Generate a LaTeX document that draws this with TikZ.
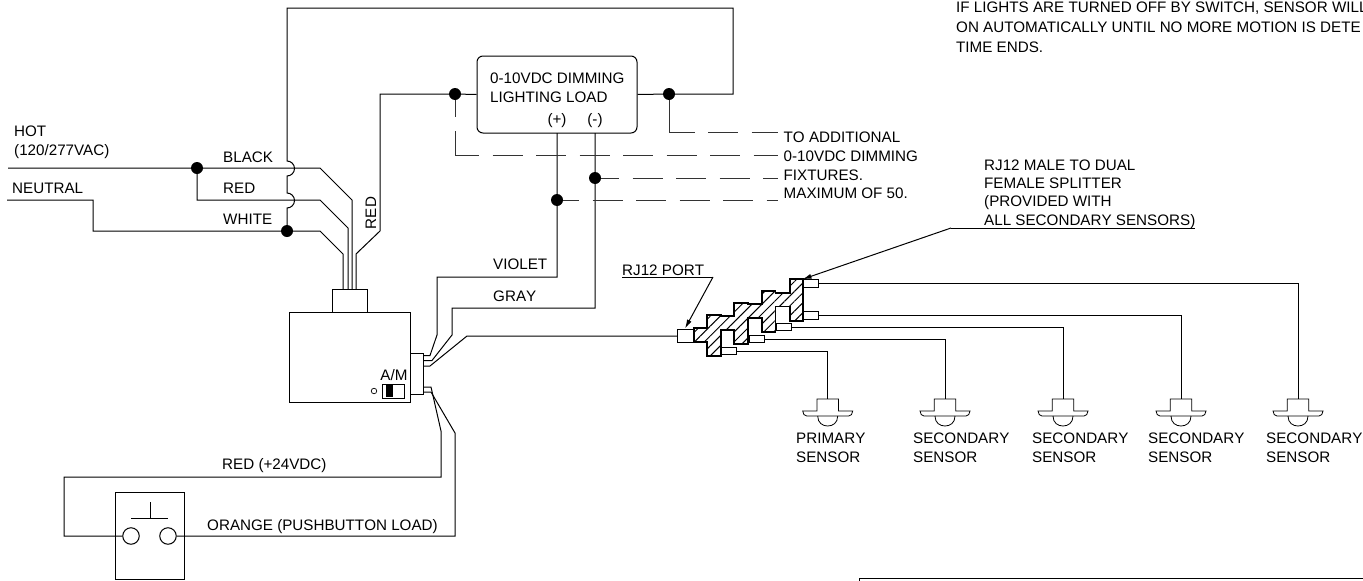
\documentclass[tikz,border=0pt]{standalone}
\usepackage{fontspec}
\setmainfont[Kerning=Off]{Liberation Sans}
\usetikzlibrary{patterns,patterns.meta,arrows.meta}
\tikzset{
 wire/.style={draw=black,line width=1pt},
 dashwire/.style={draw=black!80,line width=1pt,dash pattern=on 30pt off 13.5pt},
 dot/.style={circle,fill=black,inner sep=0pt,minimum size=12pt},
 lbl/.style={anchor=west,inner sep=0pt,font=\fontsize{15.2}{19}\selectfont,align=left},
 oneline/.style={anchor=west,inner sep=0pt,font=\fontsize{15.2}{19}\selectfont},
 hatched/.style={draw=black,line width=1.1pt,pattern={Lines[angle=45,distance=7pt,line width=1pt]}},
 outbox/.style={draw=black,line width=1pt,fill=white},
 boxed/.style={draw,line width=1pt,inner sep=0pt},
 ring/.style={draw,line width=1pt,circle,inner sep=0pt},
 leader/.style={draw=black,line width=1pt,-{Latex[length=9pt,width=5pt]}}
}
\begin{document}
\begin{tikzpicture}[x=1pt,y=-1pt]
\useasboundingbox (0,0) rectangle (1363,581);
\clip (0,0) rectangle (1363,581);
% junctions
\node[dot] (dHot) at (197,168) {};
\node[dot] (dWhite) at (287,231) {};
\node[dot] (dL) at (455,94) {};
\node[dot] (dR) at (669,94) {};
\node[dot] (dMinus) at (595,178) {};
\node[dot] (dPlus) at (557,200) {};
% boxes
\node[boxed,rounded corners=6pt,minimum width=160pt,minimum height=77pt] (load) at (557,94.5) {};
\node[boxed,minimum width=121pt,minimum height=90pt] (module) at (349.5,357) {};
\node[boxed,minimum width=35pt,minimum height=23pt] (plug) at (349.5,300.5) {};
\node[boxed,minimum width=13pt,minimum height=41pt] (side) at (416.5,373.5) {};
\node[boxed,minimum width=69pt,minimum height=87pt] (button) at (149.5,535.5) {};
\node[ring,minimum size=16.5pt] (c1) at (131,536) {};
\node[ring,minimum size=16.5pt] (c2) at (168,536) {};
\coordinate (pbl) at (131,518); \coordinate (pbr) at (168,518);
\draw[wire] (pbl) -- (pbr) (150,518) -- (150,502);
% top loop with hops
\draw[wire] (dWhite) -- (287,208)
  arc[start angle=-90,end angle=90,radius=7.5pt] -- (287,176)
  arc[start angle=-90,end angle=90,radius=7.5pt] -- (287,8) -- (733,8) -- (733,94) -- (dR);
% mains
\coordinate (hotEnd) at (8,168); \coordinate (neuEnd) at (7,200);
\draw[wire] (hotEnd) -- (dHot) -- (320,168) -- (352,200) -- (352,289);
\draw[wire] (dHot) -- (197,200) -- (320,200) -- (348,228) -- (348,289);
\draw[wire] (neuEnd) -- (93,200) -- (93,231) -- (dWhite) -- (320,231) -- (343,254) -- (343,289);
\draw[wire] (356,289) -- (356,254) -- (380,231) -- (380,94) -- (dL) -- (load.west);
\draw[wire] (load.east) -- (dR);
% load terminals
\draw[wire] (557,133) -- (dPlus) -- (557,277) -- (437,277) -- (437,335) -- (430,355.5) -- (423,355.5);
\draw[wire] (595,133) -- (dMinus) -- (595,308) -- (452,308) -- (452,335) -- (432,360.5) -- (423,360.5);
\draw[wire] (423,366) -- (430,366) -- (467,336) -- (677,336);
% dashed
\coordinate (e1) at (778,132); \coordinate (e2) at (778,155); \coordinate (e3) at (778,178); \coordinate (e4) at (778,200);
\draw[wire,draw=black!80] (dL) -- (455,117) (455,131) -- (455,155) -- (479,155);
\draw[dashwire] (492.5,155) -- (e2);
\draw[wire,draw=black!80] (dR) -- (669,132) -- (695,132);
\draw[dashwire] (708,132) -- (e1);
\draw[dashwire,dash phase=12pt] (dMinus) -- (e3);
\draw[dashwire,dash phase=14pt] (dPlus) -- (e4);
% pushbutton wires
\draw[wire] (423,387) -- (431,387) -- (441,431) -- (441,477) -- (64,477) -- (64,536) -- (c1);
\draw[wire] (423,392) -- (431,392) -- (455,433) -- (455,536) -- (c2);
% A/M switch
\node[boxed,minimum width=22pt,minimum height=14pt] (sw) at (393,391) {};
\fill (386,385) rectangle (393,397);
\node[draw,line width=.7pt,circle,minimum size=5.5pt,inner sep=0pt] (led) at (374,391) {};
% RJ12 splitter chain
\draw[hatched] (694,328) -- (707,328) -- (707,315) -- (721,315) -- (721,316) -- (734,316) -- (734,303) -- (748,303) -- (748,304) -- (762,304) -- (762,291) -- (775.5,291) -- (775.5,293) -- (790,293) -- (790,279) -- (803,279) -- (803,321) -- (790,321) -- (790,306.5) -- (775.5,306.5) -- (775.5,332) -- (762,332) -- (762,318) -- (748,318) -- (748,344) -- (734,344) -- (734,330) -- (721,330) -- (721,356) -- (707,356) -- (707,342) -- (694,342) -- cycle;
\node[outbox,minimum width=16pt,minimum height=13pt,inner sep=0pt] (port) at (685,335.5) {};
\node[outbox,minimum width=15pt,minimum height=7.5pt,inner sep=0pt] (o1) at (810.5,283.5) {};
\node[outbox,minimum width=15pt,minimum height=7.5pt,inner sep=0pt] (o2) at (810.5,315.5) {};
\node[outbox,minimum width=15pt,minimum height=7.5pt,inner sep=0pt] (o3) at (783.5,327) {};
\node[outbox,minimum width=15pt,minimum height=7.5pt,inner sep=0pt] (o4) at (756.5,339) {};
\node[outbox,minimum width=15pt,minimum height=7.5pt,inner sep=0pt] (o5) at (729,351) {};
% sensors
\foreach \n/\x/\w in {a/827.7/o5,b/945/o4,c/1063/o3,d/1181/o2,e/1298/o1}{
 \coordinate (s\n) at (\x,399);
 \draw[wire] (\w.east) -| (s\n);
 \draw[line width=.8pt] (\x-10.7,411) -- (\x-10.7,399) -- (\x+10.7,399) -- (\x+10.7,411) -- (\x+25,411) .. controls (\x+25,414) and (\x+23,416) .. (\x+21,416) -- (\x-21,416) .. controls (\x-23,416) and (\x-25,414) .. (\x-25,411) -- cycle;
 \draw[line width=.8pt] (\x-10,416) .. controls (\x-10,423) and (\x-5,426) .. (\x,426) .. controls (\x+5,426) and (\x+10,423) .. (\x+10,416);
}
% labels
\node[lbl] (tHot) at (14,131) {HOT};
\node[lbl] (tVac) at (14,152) {\addfontfeature{Kerning=On}(120/277VAC)};
\node[lbl] (tNeu) at (12,188) {NEUTRAL};
\node[lbl] (tBlack) at (223,157) {BLACK};
\node[lbl] (tRed) at (223,188) {RED};
\node[lbl] (tWhite) at (223,219) {WHITE};
\node[lbl,anchor=center,rotate=90] (tRed2) at (371,213) {RED};
\node[lbl] (tLoad) at (490,87.5) {0-10VDC DIMMING\\LIGHTING LOAD};
\node[lbl,anchor=center] (tP) at (557,121) {(+)};
\node[lbl,anchor=center] (tM) at (595,121) {(-)};
\node[lbl] (t1) at (783.5,137) {TO ADDITIONAL};
\node[lbl] (t2) at (783.5,156) {0-10VDC DIMMING};
\node[lbl] (t3) at (783.5,175) {FIXTURES.};
\node[lbl] (t4) at (783.5,193) {MAXIMUM OF 50.};
\node[lbl] (tV) at (493,264) {VIOLET};
\node[lbl] (tG) at (493,296) {GRAY};
\node[lbl,anchor=center] (tAM) at (394,375) {A/M};
\node[lbl] (tR24) at (222,466) {RED (+24VDC)};
\node[lbl] (tOr) at (207,527) {ORANGE (PUSHBUTTON LOAD)};
\node[lbl] (tPort) at (622,270) {RJ12 PORT};
\node[oneline] (tTopA) at (956,8) {IF LIGHTS ARE TURNED OFF BY SWITCH, SENSOR WILL};
\node[oneline] (tTopB) at (956,27) {\addfontfeature{Kerning=On}ON AUTOMATICALLY UNTIL NO MORE MOTION IS DETE};
\node[oneline] (tTopC) at (956,47) {TIME ENDS.};
\node[lbl,font=\fontsize{15.2}{18.4}\selectfont] (tSplit) at (984,194) {RJ12 MALE TO DUAL\\FEMALE SPLITTER\\(PROVIDED WITH\\ALL SECONDARY SENSORS)};
\node[lbl] (s1) at (796,448) {PRIMARY\\SENSOR};
\node[lbl] (s2) at (913,448) {SECONDARY\\SENSOR};
\node[lbl] (s3) at (1032,448) {SECONDARY\\SENSOR};
\node[lbl] (s4) at (1148,448) {SECONDARY\\SENSOR};
\node[lbl] (s5) at (1266,448) {SECONDARY\\SENSOR};
% leaders
\coordinate (pa) at (622,277); \coordinate (pb) at (713,277);
\draw[wire] (pa) -- (pb);
\draw[leader] (pb) -- (port.north);
\coordinate (sa) at (951,228); \coordinate (sb) at (1195,228);
\draw[wire] (sa) -- (sb);
\draw[leader] (sa) -- (o1.north west);
\coordinate (r) at (859.5,578);
\draw[wire] (1363,578) -- (r) -- (859.5,581);
\end{tikzpicture}
\end{document}
